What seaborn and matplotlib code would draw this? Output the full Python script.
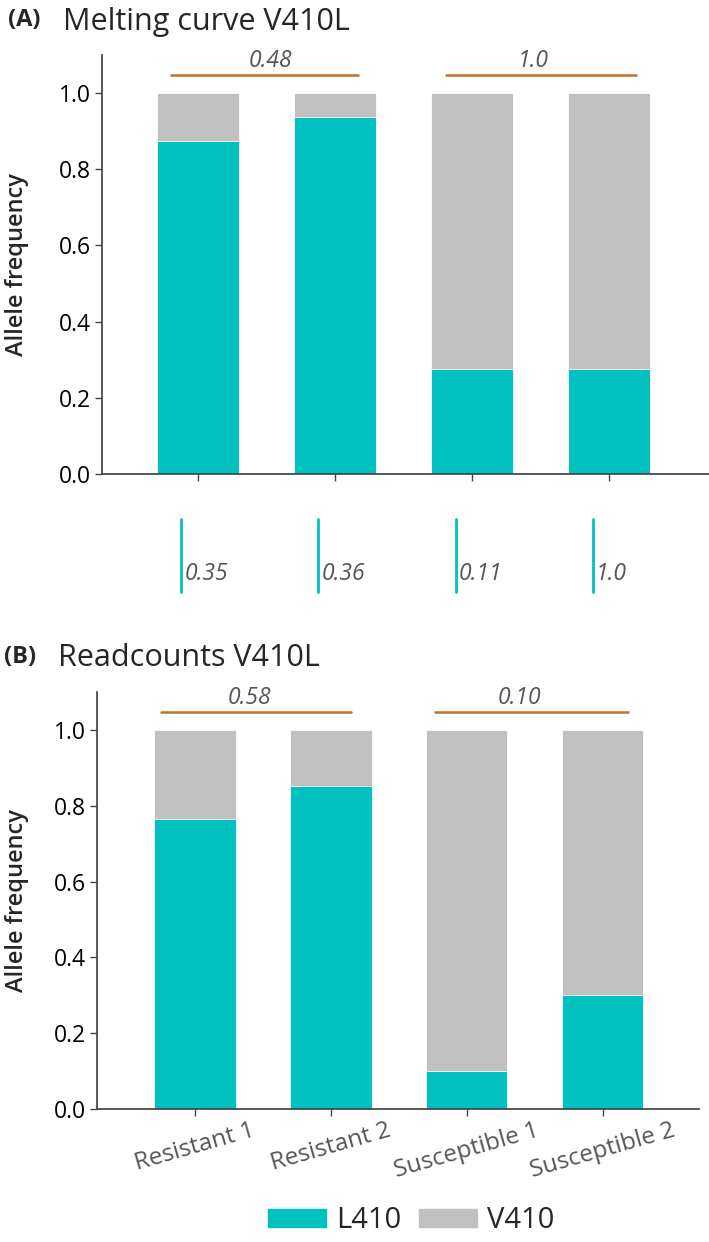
import numpy as np
import matplotlib.pyplot as plt
import seaborn as sns
from matplotlib.patches import Patch

# Datos
groups = ["Resistant 1", "Resistant 2", "Susceptible 1", "Susceptible 2"]

# (A) melting curve
l410_melt = [0.875, 0.9375, 0.275, 0.275]
v410_melt = [0.125, 0.0625, 0.725, 0.725]
p_pairs_melt = ["0.48", "1.0"]
p_single_melt = ["0.35", "0.36", "0.11", "1.0"]

# (B) readcounts
l410_reads = [0.765, 0.853, 0.10, 0.30]
v410_reads = [0.235, 0.147, 0.90, 0.70]
p_pairs_reads = ["0.58", "0.10"]

teal = "#00C0C0"
grey = "#C0C0C0"
brown = "#C0702A"
txt_grey = "#555555"

sns.set_theme(style="ticks")
plt.rcParams["font.family"] = ["Open Sans", "DejaVu Sans"]
plt.rcParams["axes.edgecolor"] = "#444444"

fig = plt.figure(figsize=(7.09, 12.42), dpi=100)
W, H = 709, 1242
ax_a = fig.add_axes([102 / W, 1 - 474 / H, (709 - 102) / W, (474 - 55) / H])
ax_b = fig.add_axes([97 / W, 1 - 1109 / H, (699 - 97) / W, (1109 - 692) / H])


def draw_panel(ax, l410, v410, pairs, spans, text_x, xlim):
    total = np.array(l410) + np.array(v410)
    sns.barplot(x=groups, y=total, color=grey, width=0.6, saturation=1,
                errorbar=None, edgecolor="white", linewidth=0.6, ax=ax)
    sns.barplot(x=groups, y=l410, color=teal, width=0.6, saturation=1,
                errorbar=None, edgecolor="white", linewidth=0.6, ax=ax)
    ax.set_ylim(0, 1.1)
    ax.set_xlim(*xlim)
    ax.set_yticks([0, 0.2, 0.4, 0.6, 0.8, 1.0])
    ax.set_yticklabels(["0.0", "0.2", "0.4", "0.6", "0.8", "1.0"])
    ax.tick_params(axis="both", length=5, width=1, color="#444444")
    ax.tick_params(axis="y", labelsize=16.5, labelcolor="black", pad=3)
    sns.despine(ax=ax)
    ax.set_xlabel("")
    ax.set_ylabel("Allele frequency", fontsize=17, weight="semibold")
    # brackets con p-valores
    for (x0, x1), tx, lab in zip(spans, text_x, pairs):
        ax.plot([x0, x1], [1.048, 1.048], color=brown, lw=1.8, clip_on=False)
        ax.text(tx, 1.084, lab, ha="center", va="center", fontsize=16.5,
                style="italic", color=txt_grey)


draw_panel(ax_a, l410_melt, v410_melt, p_pairs_melt,
           [(-0.20, 1.17), (1.81, 3.20)], [0.53, 2.45], (-0.70, 3.73))
ax_a.set_xticklabels([])
ax_a.yaxis.set_label_coords((29 - 102) / 607, 0.5)

# p-valores individuales debajo del panel A
for i, lab in enumerate(p_single_melt):
    ax_a.plot([i - 0.12, i - 0.12], [-0.118, -0.309], color=teal, lw=2,
              clip_on=False)
    ax_a.text(i - 0.095, -0.262, lab, ha="left", va="center", fontsize=16.5,
              style="italic", color=txt_grey)

draw_panel(ax_b, l410_reads, v410_reads, p_pairs_reads,
           [(-0.25, 1.15), (1.77, 3.19)], [0.40, 2.39], (-0.72, 3.71))
ax_b.tick_params(axis="x", labelsize=17.5, labelcolor=txt_grey, rotation=16, pad=2)
ax_b.yaxis.set_label_coords((29 - 97) / 602, 0.5)

# titulos
fig.text(8 / W, 1 - 20 / H, "(A)", fontsize=17, weight="bold", va="center")
fig.text(63 / W, 1 - 22 / H, "Melting curve V410L", fontsize=22, va="center")
fig.text(4 / W, 1 - 657 / H, "(B)", fontsize=17, weight="bold", va="center")
fig.text(58 / W, 1 - 658 / H, "Readcounts V410L", fontsize=22, va="center")

# leyenda
handles = [Patch(color=teal), Patch(color=grey)]
fig.legend(handles, ["L410", "V410"], loc="center", bbox_to_anchor=(0.58, 0.017),
           ncol=2, frameon=False, fontsize=21, handlelength=2.0,
           handleheight=0.6, columnspacing=0.6, handletextpad=0.35)

plt.savefig("out.png", dpi=100)
